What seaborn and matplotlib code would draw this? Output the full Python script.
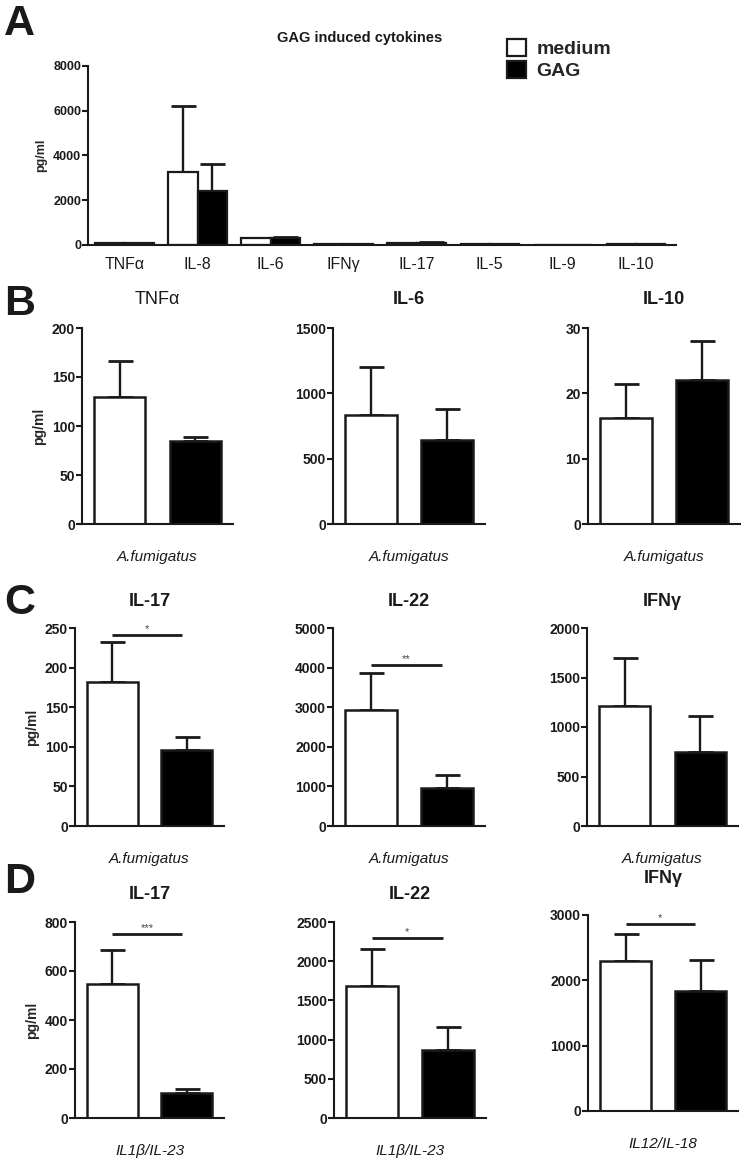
import numpy as np
import pandas as pd
import matplotlib
matplotlib.use('Agg')
import matplotlib.pyplot as plt
import seaborn as sns

sns.set_style('ticks')
plt.rcParams['font.family'] = ['Liberation Sans Narrow', 'Liberation Sans', 'DejaVu Sans']
plt.rcParams['axes.linewidth'] = 1.5

INK = '#1a1a1a'
groups = ['medium', 'GAG']
colors = {'medium': 'white', 'GAG': 'black'}

# ---- panel A: GAG induced cytokines (mean and mean+SEM)
a_cytokines = ['TNFα', 'IL-8', 'IL-6', 'IFNγ', 'IL-17', 'IL-5', 'IL-9', 'IL-10']
a_medium = [90, 3270, 310, 30, 80, 40, 5, 25]
a_medium_top = [100, 6220, 330, 35, 95, 45, 6, 30]
a_gag = [85, 2420, 330, 30, 90, 40, 5, 25]
a_gag_top = [95, 3620, 350, 35, 120, 45, 6, 30]

# ---- panel B: A.fumigatus
b_titles = ['TNFα', 'IL-6', 'IL-10']
b_medium = [130, 838, 16.2]
b_medium_top = [166, 1205, 21.4]
b_gag = [85, 645, 22.1]
b_gag_top = [89, 877, 28.0]
b_xlabels = ['A.fumigatus'] * 3
b_sig = [None, None, None]
b_sig_y = [None, None, None]

# ---- panel C: A.fumigatus
c_titles = ['IL-17', 'IL-22', 'IFNγ']
c_medium = [182, 2930, 1215]
c_medium_top = [232, 3870, 1700]
c_gag = [96, 968, 750]
c_gag_top = [113, 1295, 1113]
c_xlabels = ['A.fumigatus'] * 3
c_sig = ['*', '**', None]
c_sig_y = [241, 4060, None]

# ---- panel D: cytokine stimulation
d_titles = ['IL-17', 'IL-22', 'IFNγ']
d_medium = [545, 1685, 2290]
d_medium_top = [684, 2155, 2710]
d_gag = [101, 868, 1840]
d_gag_top = [117, 1158, 2315]
d_xlabels = ['IL1β/IL-23', 'IL1β/IL-23', 'IL12/IL-18']
d_sig = ['***', '*', '*']
d_sig_y = [750, 2296, 2862]

W, H = 744, 1166
fig = plt.figure(figsize=(W / 100, H / 100), dpi=100)


def px_axes(left, top, right, bottom):
    return fig.add_axes([left / W, 1 - bottom / H, (right - left) / W, (bottom - top) / H])


def add_sem(ax, tops):
    bars = [b for c in ax.containers for b in c]
    for bar, top in zip(bars, tops):
        x = bar.get_x() + bar.get_width() / 2
        h = bar.get_height()
        ax.errorbar(x, h, yerr=[[0], [top - h]], fmt='none', ecolor=INK,
                    elinewidth=1.7, capsize=9, capthick=2, zorder=0.9)


def style_axis(ax, ymax, step, size):
    sns.despine(ax=ax)
    ax.set_ylim(0, ymax)
    ax.set_yticks(np.arange(0, ymax + step / 2, step))
    ax.tick_params(axis='y', length=4, width=1.5, pad=1, labelsize=size, colors=INK)
    for lab in ax.get_yticklabels():
        lab.set_fontweight('bold')
    for s in ['left', 'bottom']:
        ax.spines[s].set_color(INK)


# ---------------- panel A
axA = px_axes(88, 66, 676, 245)
dfA = pd.DataFrame({
    'cytokine': a_cytokines * 2,
    'group': ['medium'] * len(a_cytokines) + ['GAG'] * len(a_cytokines),
    'value': a_medium + a_gag,
})
sns.barplot(data=dfA, x='cytokine', y='value', hue='group', hue_order=groups,
            palette=colors, edgecolor=INK, linewidth=1.6, width=0.8,
            errorbar=None, ax=axA)
add_sem(axA, a_medium_top + a_gag_top)
style_axis(axA, 8000, 2000, 9)
axA.set_xlim(-0.5, 7.55)
axA.tick_params(axis='x', length=0, pad=9, labelsize=11.5, colors=INK)
axA.set_xlabel('')
axA.set_ylabel('pg/ml', fontsize=9, fontweight='bold')
axA.yaxis.set_label_coords(-0.07, 0.5)
handles, labels = axA.get_legend_handles_labels()
axA.legend(handles, labels, loc='upper left', bbox_to_anchor=(507 / W, 1 - 39 / H),
           bbox_transform=fig.transFigure, frameon=False,
           prop={'weight': 'bold', 'size': 14}, handlelength=1.0, handleheight=0.95,
           handletextpad=0.5, labelspacing=0.15, borderpad=0, borderaxespad=0)
fig.text(360 / W, 1 - 38 / H, 'GAG induced cytokines', ha='center', va='center',
         fontsize=10.5, fontweight='bold', color=INK)

# ---------------- panels B-D
rows = [
    dict(titles=b_titles, med=b_medium, med_top=b_medium_top, gag=b_gag, gag_top=b_gag_top,
         xlabels=b_xlabels, sig=b_sig, sig_y=b_sig_y, ymax=[200, 1500, 30], step=[50, 500, 10],
         lefts=[82, 333, 588], rights=[233, 485, 740], tops=[328] * 3, bottoms=[524] * 3,
         pads=[24, 24, 24], title_bold=[False, True, True]),
    dict(titles=c_titles, med=c_medium, med_top=c_medium_top, gag=c_gag, gag_top=c_gag_top,
         xlabels=c_xlabels, sig=c_sig, sig_y=c_sig_y, ymax=[250, 5000, 2000], step=[50, 1000, 500],
         lefts=[75, 333, 587], rights=[224, 485, 738], tops=[628] * 3, bottoms=[826] * 3,
         pads=[22, 22, 22], title_bold=[True, True, True]),
    dict(titles=d_titles, med=d_medium, med_top=d_medium_top, gag=d_gag, gag_top=d_gag_top,
         xlabels=d_xlabels, sig=d_sig, sig_y=d_sig_y, ymax=[800, 2500, 3000], step=[200, 500, 1000],
         lefts=[75, 334, 588], rights=[224, 486, 738], tops=[922, 922, 915], bottoms=[1118, 1118, 1111],
         pads=[23, 23, 32], title_bold=[True, True, True]),
]

for r, row in enumerate(rows):
    for i in range(3):
        ax = px_axes(row['lefts'][i], row['tops'][i], row['rights'][i], row['bottoms'][i])
        df = pd.DataFrame({'group': groups, 'value': [row['med'][i], row['gag'][i]]})
        sns.barplot(data=df, x='group', y='value', hue='group', order=groups, hue_order=groups,
                    palette=colors, edgecolor=INK, linewidth=1.8, width=0.68,
                    errorbar=None, legend=False, ax=ax)
        add_sem(ax, [row['med_top'][i], row['gag_top'][i]])
        style_axis(ax, row['ymax'][i], row['step'][i], 10)
        ax.set_xlim(-0.5, 1.5)
        ax.set_xticks([])
        ax.set_xlabel(row['xlabels'][i], fontsize=11, fontstyle='italic', labelpad=19, color=INK)
        ax.set_ylabel('pg/ml' if i == 0 else '', fontsize=10, fontweight='bold')
        ax.yaxis.set_label_coords(-0.24, 0.5)
        ax.set_title(row['titles'][i], fontsize=13, pad=row['pads'][i] * 0.72,
                     fontweight='bold' if row['title_bold'][i] else 'normal', color=INK)
        if row['sig'][i]:
            bars = [b for c in ax.containers for b in c]
            x0 = bars[0].get_x() + bars[0].get_width() / 2
            x1 = bars[1].get_x() + bars[1].get_width() / 2 - 0.07
            y = row['sig_y'][i]
            ax.plot([x0, x1], [y, y], color=INK, lw=2, solid_capstyle='butt', clip_on=False)
            ax.annotate(row['sig'][i], ((x0 + x1) / 2, y), xytext=(0, 1), textcoords='offset points',
                        ha='center', va='bottom', fontsize=8, color='#444444', annotation_clip=False)

# panel letters
for letter, top in zip('ABCD', [4, 284, 583, 862]):
    fig.text(4 / W, 1 - top / H, letter, ha='left', va='top', fontsize=31,
             fontweight='bold', color=INK)

fig.savefig('out.png', dpi=100)
